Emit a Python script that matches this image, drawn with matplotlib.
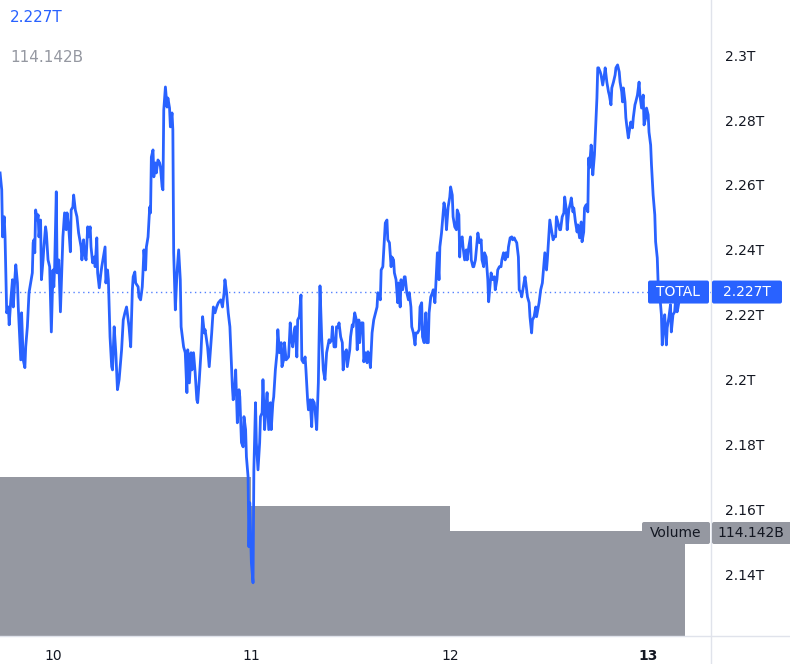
import matplotlib
matplotlib.use("Agg")
import numpy as np
import matplotlib.pyplot as plt
from matplotlib.patches import FancyBboxPatch
from matplotlib.lines import Line2D

# hours since Sep 10 00:00
hours = [
    -6.4, -6.2, -6.1, -5.9, -5.8, -5.6, -5.4, -5.3, -5.1, -4.9,
    -4.8, -4.6, -4.5, -4.3, -4.2, -3.9, -3.8, -3.6, -3.4, -3.3,
    -3.1, -2.9, -2.7, -2.5, -2.4, -2.3, -2.2, -2.1, -1.9, -1.8,
    -1.7, -1.5, -1.4, -1.2, -1.1, -0.9, -0.8, -0.6, -0.4, -0.2,
    0.0, 0.1, 0.2, 0.4, 0.5, 0.7, 0.9, 1.1, 1.2, 1.4,
    1.6, 1.7, 1.9, 2.1, 2.2, 2.4, 2.5, 2.7, 2.9, 3.1,
    3.4, 3.5, 3.7, 3.8, 4.0, 4.2, 4.3, 4.5, 4.6, 4.8,
    5.0, 5.1, 5.3, 5.4, 5.6, 5.8, 5.9, 6.1, 6.3, 6.4,
    6.6, 6.7, 6.9, 7.1, 7.2, 7.4, 7.6, 7.8, 8.0, 8.3,
    8.5, 8.7, 8.9, 9.1, 9.2, 9.4, 9.6, 9.7, 9.9, 10.0,
    10.3, 10.4, 10.6, 10.8, 10.9, 11.0, 11.2, 11.3, 11.5, 11.7,
    11.8, 11.9, 12.1, 12.2, 12.4, 12.5, 12.7, 12.9, 13.0, 13.2,
    13.3, 13.4, 13.6, 13.8, 13.9, 14.1, 14.2, 14.4, 14.5, 14.6,
    14.8, 15.0, 15.2, 15.4, 15.5, 15.8, 16.0, 16.2, 16.3, 16.5,
    16.7, 16.8, 17.0, 17.2, 17.4, 17.5, 17.7, 17.9, 18.1, 18.3,
    18.4, 18.7, 18.9, 19.2, 19.4, 19.6, 19.8, 20.0, 20.3, 20.5,
    20.7, 20.8, 21.0, 21.2, 21.4, 21.7, 21.8, 22.0, 22.1, 22.3,
    22.5, 22.6, 22.8, 23.0, 23.1, 23.3, 23.4, 23.6, 23.7, 23.8,
    24.0, 24.2, 24.3, 24.5, 24.6, 24.8, 25.0, 25.1, 25.3, 25.4,
    25.6, 25.8, 25.9, 26.1, 26.3, 26.4, 26.6, 26.7, 26.9, 27.1,
    27.2, 27.4, 27.6, 27.7, 27.9, 28.0, 28.2, 28.5, 28.7, 28.8,
    29.0, 29.2, 29.3, 29.5, 29.6, 29.8, 30.0, 30.1, 30.3, 30.5,
    30.6, 30.8, 30.9, 31.1, 31.3, 31.4, 31.6, 31.7, 31.9, 32.1,
    32.2, 32.3, 32.5, 32.7, 32.9, 33.1, 33.4, 33.5, 33.7, 33.8,
    34.0, 34.2, 34.3, 34.5, 34.6, 34.8, 35.0, 35.1, 35.3, 35.5,
    35.6, 35.9, 36.0, 36.2, 36.3, 36.5, 36.7, 36.8, 37.0, 37.1,
    37.3, 37.5, 37.6, 37.8, 38.0, 38.1, 38.3, 38.4, 38.6, 38.8,
    38.9, 39.1, 39.2, 39.3, 39.5, 39.6, 39.7, 39.9, 40.1, 40.2,
    40.4, 40.5, 40.7, 40.9, 41.0, 41.2, 41.3, 41.5, 41.7, 41.8,
    42.0, 42.1, 42.3, 42.5, 42.6, 42.8, 43.0, 43.1, 43.3, 43.4,
    43.6, 43.8, 43.9, 44.1, 44.3, 44.4, 44.6, 44.7, 44.9, 45.1,
    45.2, 45.4, 45.5, 45.7, 45.9, 46.0, 46.2, 46.3, 46.5, 46.7,
    46.8, 47.0, 47.2, 47.3, 47.5, 47.6, 47.8, 48.0, 48.1, 48.3,
    48.4, 48.6, 48.8, 48.9, 49.1, 49.2, 49.3, 49.5, 49.6, 49.8,
    50.0, 50.1, 50.3, 50.5, 50.6, 50.8, 50.9, 51.1, 51.3, 51.4,
    51.6, 51.8, 51.9, 52.1, 52.2, 52.4, 52.6, 52.7, 52.9, 53.0,
    53.2, 53.4, 53.5, 53.7, 53.8, 54.0, 54.2, 54.3, 54.5, 54.7,
    54.8, 55.0, 55.1, 55.3, 55.5, 55.6, 55.8, 55.9, 56.1, 56.3,
    56.4, 56.6, 56.7, 56.9, 57.1, 57.2, 57.4, 57.6, 57.7, 57.9,
    58.0, 58.2, 58.4, 58.5, 58.7, 58.8, 59.0, 59.2, 59.3, 59.5,
    59.7, 59.8, 60.0, 60.1, 60.3, 60.5, 60.6, 60.8, 60.9, 61.1,
    61.3, 61.4, 61.6, 61.8, 61.9, 62.1, 62.2, 62.4, 62.6,
    62.7, 62.9, 63.0, 63.2, 63.4, 63.5, 63.7, 63.9, 64.0, 64.2,
    64.3, 64.5, 64.7, 64.8, 64.9, 65.1, 65.2, 65.3, 65.5, 65.6,
    65.8, 65.9, 66.0, 66.2, 66.3, 66.5, 66.7, 66.8, 67.0, 67.2,
    67.3, 67.5, 67.6, 67.8, 68.0, 68.1, 68.3, 68.5, 68.6, 68.8,
    68.9, 69.0, 69.2, 69.3, 69.4, 69.6, 69.7, 69.9, 70.1, 70.2,
    70.4, 70.5, 70.7, 70.9, 71.0, 71.2, 71.4, 71.5, 71.7, 71.8,
    72.0, 72.1, 72.3, 72.4, 72.6, 72.8, 72.9, 73.1, 73.2, 73.4,
    73.6, 73.7, 73.9, 74.0, 74.2, 74.3, 74.5, 74.7, 74.8, 75.0,
    75.2, 75.3, 75.5, 75.6, 75.8, 76.0, 76.1, 76.3, 76.8,
]

# total crypto market cap, billions USD
total_b = [
    2263.7, 2258.5, 2244.0, 2250.2, 2244.0, 2220.6, 2222.4, 2216.9, 2224.6, 2230.8,
    2222.4, 2231.7, 2235.4, 2229.8, 2222.4, 2206.1, 2220.6, 2206.1, 2203.7, 2210.1,
    2216.3, 2226.8, 2229.8, 2232.9, 2242.2, 2243.1, 2239.1, 2252.3, 2249.2, 2250.8,
    2244.0, 2249.2, 2230.8, 2236.9, 2240.9, 2247.1, 2245.2, 2236.9, 2234.8, 2214.7,
    2233.8, 2228.6, 2234.8, 2257.9, 2232.9, 2236.9, 2220.9, 2236.9, 2244.0, 2251.4,
    2246.2, 2251.4, 2247.1, 2239.4, 2252.3, 2253.2, 2256.9, 2252.3, 2250.2, 2245.2,
    2240.9, 2236.9, 2243.1, 2239.1, 2236.9, 2247.1, 2244.0, 2247.1, 2240.9, 2236.0,
    2237.8, 2234.8, 2243.7, 2232.9, 2228.3, 2232.9, 2234.8, 2237.8, 2240.9, 2229.8,
    2233.8, 2230.8, 2213.2, 2204.0, 2203.0, 2216.3, 2208.3, 2196.9, 2200.0, 2209.2,
    2218.4, 2220.6, 2222.4, 2218.4, 2216.3, 2210.1, 2227.7, 2231.7, 2233.2, 2229.8,
    2228.6, 2225.5, 2224.6, 2228.6, 2233.8, 2240.0, 2233.8, 2240.9, 2244.0, 2253.2,
    2251.4, 2268.6, 2270.8, 2262.5, 2266.8, 2263.7, 2267.7, 2266.8, 2265.6, 2259.4,
    2258.5, 2283.1, 2290.2, 2284.0, 2286.8, 2283.7, 2277.9, 2282.2, 2277.0, 2239.1,
    2221.5, 2232.9, 2240.0, 2230.8, 2216.3, 2210.1, 2208.3, 2196.0, 2209.2, 2199.0,
    2208.3, 2203.0, 2208.3, 2202.1, 2193.8, 2192.9, 2200.0, 2208.3, 2219.4, 2214.4,
    2215.4, 2210.1, 2204.0, 2214.4, 2222.4, 2220.6, 2222.4, 2223.7, 2224.6, 2222.4,
    2226.8, 2230.8, 2226.8, 2220.6, 2216.3, 2197.8, 2193.8, 2197.8, 2203.0, 2186.7,
    2196.9, 2194.7, 2180.6, 2179.3, 2188.6, 2184.6, 2176.2, 2170.1, 2148.5, 2162.1,
    2143.6, 2137.4, 2172.2, 2192.9, 2180.6, 2172.2, 2180.6, 2188.6, 2189.8, 2200.0,
    2184.6, 2192.9, 2196.0, 2184.6, 2192.9, 2184.6, 2192.9, 2194.7, 2203.0, 2208.3,
    2215.4, 2208.3, 2211.4, 2204.0, 2206.1, 2211.4, 2206.1, 2207.0, 2217.5, 2213.2,
    2210.1, 2215.4, 2216.3, 2207.0, 2218.4, 2219.4, 2226.1, 2206.1, 2205.2, 2207.0,
    2203.0, 2193.8, 2190.7, 2193.8, 2185.5, 2193.8, 2192.9, 2190.7, 2184.6, 2199.0,
    2213.2, 2228.9, 2213.2, 2203.0, 2200.0, 2208.3, 2212.3, 2211.4, 2212.3, 2216.3,
    2210.1, 2210.1, 2216.3, 2216.0, 2217.5, 2213.2, 2211.4, 2203.0, 2208.3, 2209.2,
    2204.0, 2209.2, 2213.2, 2216.9, 2216.3, 2220.6, 2218.4, 2209.2, 2218.4, 2211.4,
    2217.5, 2217.5, 2205.5, 2208.3, 2205.2, 2208.6, 2206.1, 2203.7, 2214.4, 2218.4,
    2219.4, 2221.5, 2222.4, 2226.8, 2225.5, 2224.6, 2233.8, 2234.8, 2244.0, 2248.3,
    2249.2, 2243.1, 2242.2, 2234.8, 2237.8, 2236.9, 2232.9, 2230.8, 2223.7, 2229.8,
    2222.4, 2230.8, 2227.7, 2231.7, 2231.7, 2226.8, 2224.6, 2226.8, 2222.4, 2216.3,
    2214.4, 2210.7, 2214.4, 2214.4, 2215.4, 2222.4, 2223.7, 2213.2, 2211.4, 2220.6,
    2211.4, 2211.4, 2220.6, 2225.5, 2226.8, 2227.7, 2223.7, 2228.6, 2239.1, 2230.8,
    2240.9, 2245.2, 2251.4, 2254.5, 2251.4, 2246.2, 2253.2, 2256.3, 2259.4, 2256.9,
    2250.2, 2247.1, 2246.2, 2252.3, 2250.8, 2237.8, 2243.1, 2244.0, 2240.9, 2236.9,
    2240.0, 2236.9, 2240.9, 2244.0, 2236.9, 2234.8, 2234.8, 2236.9, 2242.2, 2245.2,
    2242.2, 2243.1, 2236.9, 2234.8, 2239.1, 2237.8, 2230.8, 2224.0, 2229.8, 2232.9,
    2230.8, 2231.7, 2227.7, 2230.8, 2233.8, 2234.8, 2234.8, 2236.9, 2239.1, 2236.9,
    2239.1, 2237.8, 2240.9, 2243.7, 2244.0, 2243.1, 2243.7, 2243.1, 2242.2, 2237.8,
    2227.7, 2226.8, 2225.5, 2228.6, 2231.7, 2229.8, 2225.5, 2223.7, 2219.4, 2214.4,
    2218.4, 2219.4, 2222.4, 2219.4, 2222.4, 2223.7, 2227.7, 2229.8, 2232.9, 2239.1,
    2233.8, 2236.9, 2245.2, 2249.2, 2246.2, 2243.1, 2244.0, 2244.0, 2250.2, 2248.3,
    2246.2, 2246.2, 2250.2, 2251.4, 2256.3, 2252.3, 2246.2, 2252.3, 2254.5,
    2256.0, 2251.7, 2252.9, 2248.6, 2245.5, 2247.7, 2243.7, 2248.6, 2242.5, 2245.5,
    2252.9, 2253.9, 2251.7, 2268.3, 2265.3, 2272.3, 2269.3, 2263.1, 2269.3, 2275.4,
    2286.8, 2296.1, 2296.1, 2294.8, 2293.9, 2290.8, 2293.9, 2296.1, 2291.7, 2288.7,
    2287.7, 2284.7, 2289.9, 2291.7, 2293.9, 2296.1, 2297.0, 2294.8, 2291.7, 2288.7,
    2285.6, 2289.9, 2285.6, 2280.7, 2278.5, 2274.5, 2276.3, 2279.4, 2277.6, 2280.7,
    2284.7, 2285.6, 2287.7, 2291.7, 2287.7, 2283.7, 2287.7, 2278.5, 2280.7, 2283.7,
    2281.6, 2276.3, 2272.3, 2266.2, 2256.9, 2250.8, 2242.5, 2237.5, 2230.1, 2226.1,
    2220.0, 2210.7, 2217.8, 2220.0, 2210.7, 2216.0, 2219.1, 2223.1, 2214.7, 2220.0,
    2220.9, 2224.0, 2220.9, 2222.1, 2225.2, 2229.2, 2228.3, 2229.2, 2227.0,
]
assert len(hours) == len(total_b)

# daily volume (billions), with the hour each day's bar starts and ends
vol_start_h = [-24, 24, 48]
vol_end_h = [24, 48, 76.5]
vol_b = [172.9, 141.3, 114.142]

day_ticks = [0, 24, 48, 72]
day_labels = ["10", "11", "12", "13"]
price_ticks = [2.14, 2.16, 2.18, 2.20, 2.22, 2.24, 2.26, 2.28, 2.30]

BLUE = "#2962ff"
GREY = "#9598a1"
TXT = "#131722"
SEP = "#e0e3eb"
W, H = 790, 664

plt.rcParams["font.family"] = ["DejaVu Sans"]
fig = plt.figure(figsize=(W / 100, H / 100), dpi=100)
rect = [0, 28 / H, 711 / W, 636 / H]

# volume pane (behind)
axv = fig.add_axes(rect)
axv.bar(vol_start_h, vol_b, width=np.subtract(vol_end_h, vol_start_h), align="edge",
        color=GREY, edgecolor="none")
axv.set_ylim(0, vol_b[-1] * 636 / 105)
axv.set_xlim(-6.41, 79.6)
axv.axis("off")

# price pane
ax = fig.add_axes(rect)
ax.patch.set_alpha(0)
vals_t = np.array(total_b) / 1000
last = vals_t[-1]
ax.axhline(last, color=BLUE, lw=1, linestyle=(0, (1, 2.5)), alpha=0.8)
ax.plot(hours, vals_t, color=BLUE, lw=2.0, solid_joinstyle="round")
ax.plot(hours[-1], last, "o", ms=13, mfc=(0.16, 0.38, 1, 0.12), mec=(0.16, 0.38, 1, 0.35), mew=1)
ax.set_xlim(-6.41, 79.6)
ax.set_ylim(2.1210, 2.3170)

for s in ax.spines.values():
    s.set_visible(False)
ax.yaxis.tick_right()
ax.set_yticks(price_ticks)
ax.set_yticklabels([f"{v:g}T" for v in price_ticks])
ax.set_xticks(day_ticks)
ax.set_xticklabels(day_labels)
ax.tick_params(axis="y", length=0, pad=10, labelsize=10, labelcolor=TXT)
ax.tick_params(axis="x", length=0, pad=9, labelsize=10, labelcolor=TXT)
ax.get_xticklabels()[-1].set_fontweight("bold")

# separators
fig.add_artist(Line2D([711 / W, 711 / W], [0, 1], color=SEP, lw=1))
fig.add_artist(Line2D([0, 1], [28 / H, 28 / H], color=SEP, lw=1))

# legend values top-left
fig.text(10 / W, 1 - 17 / H, f"{last:.3f}T", color=BLUE, fontsize=11, va="center", ha="left")
fig.text(10 / W, 1 - 57 / H, f"{vol_b[-1]:.3f}B", color=GREY, fontsize=11, va="center", ha="left")

# last-price label boxes
yc = ax.transData.transform((0, last))[1]
def box(x0, x1, yc, h, color):
    p = FancyBboxPatch((x0, yc - h / 2), x1 - x0, h, boxstyle="round,pad=0,rounding_size=2",
                       fc=color, ec="none", transform=None, zorder=10)
    fig.add_artist(p)

box(648, 709, yc, 23, BLUE)
box(712, 782, yc, 23, BLUE)
fig.text(678.5 / W, yc / H, "TOTAL", color="white", fontsize=10, ha="center", va="center", zorder=11)
fig.text(747 / W, yc / H, f"{last:.3f}T", color="white", fontsize=10, ha="center", va="center", zorder=11)

# volume label boxes
yv = axv.transData.transform((0, vol_b[-1]))[1] - 2
box(642, 710, yv, 22, GREY)
box(712, 792, yv, 22, GREY)
fig.text(676 / W, yv / H, "Volume", color=TXT, fontsize=10, ha="center", va="center", zorder=11)
fig.text(751 / W, yv / H, f"{vol_b[-1]:.3f}B", color=TXT, fontsize=10, ha="center", va="center", zorder=11)

fig.savefig("out.png", dpi=100)
